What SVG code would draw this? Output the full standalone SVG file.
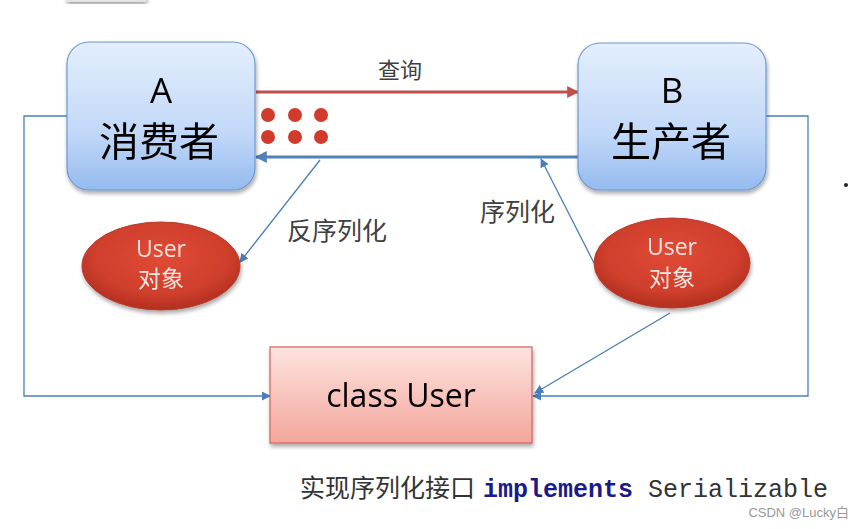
<svg xmlns="http://www.w3.org/2000/svg" width="863" height="529" viewBox="0 0 863 529">
<defs>
<linearGradient id="gBlue" x1="0" y1="0" x2="0" y2="1">
<stop offset="0" stop-color="#e3eefd"/>
<stop offset="0.6" stop-color="#c3d9f8"/>
<stop offset="1" stop-color="#95bbef"/>
</linearGradient>
<linearGradient id="gPink" x1="0" y1="0" x2="0" y2="1">
<stop offset="0" stop-color="#fde3df"/>
<stop offset="1" stop-color="#f4a69c"/>
</linearGradient>
<radialGradient id="gRed" cx="0.5" cy="0.4" r="0.6">
<stop offset="0" stop-color="#e04a35"/>
<stop offset="0.7" stop-color="#cf3f2c"/>
<stop offset="1" stop-color="#b22e20"/>
</radialGradient>
<filter id="sh" x="-10%" y="-10%" width="125%" height="130%">
<feGaussianBlur in="SourceAlpha" stdDeviation="2"/>
<feOffset dx="1" dy="3" result="b"/>
<feComponentTransfer><feFuncA type="linear" slope="0.35"/></feComponentTransfer>
<feMerge><feMergeNode/><feMergeNode in="SourceGraphic"/></feMerge>
</filter>
<marker id="arrRed" viewBox="0 0 10 10" refX="9" refY="5" markerWidth="4" markerHeight="4" orient="auto" markerUnits="strokeWidth">
<path d="M0,0 L10,5 L0,10 z" fill="#c0504d"/>
</marker>
<marker id="arrBlueThick" viewBox="0 0 10 10" refX="9" refY="5" markerWidth="4" markerHeight="4" orient="auto" markerUnits="strokeWidth">
<path d="M0,0 L10,5 L0,10 z" fill="#4f81bd"/>
</marker>
<marker id="arrBlue" viewBox="0 0 10 10" refX="9" refY="5" markerWidth="9" markerHeight="9" orient="auto" markerUnits="userSpaceOnUse">
<path d="M0,0 L10,5 L0,10 z" fill="#4a7ebb"/>
</marker>
</defs>
<style>
.node{fill:url(#gBlue);stroke:#6f98cf;stroke-width:1.2}
.ttl{font-family:"Open Sans","Noto Sans","Noto Sans CJK SC",sans-serif;fill:#000;text-anchor:middle}
.cjk{font-family:"Noto Sans CJK SC","Noto Sans",sans-serif}
.ell{fill:url(#gRed);stroke:#b83a2c;stroke-width:1}
.etx{font-family:"Open Sans","Noto Sans CJK SC",sans-serif;fill:#fbe5e1;text-anchor:middle;font-size:23px}
.lbl{font-family:"Noto Sans CJK SC",sans-serif;fill:#404040}
.thin{fill:none;stroke:#4a7ebb;stroke-width:1.3}
.dot{fill:#d13b2b}
</style>

<rect x="66" y="-6" width="80" height="8" fill="#e4e4e4" filter="url(#sh)"/>

<g id="connectors">
<line x1="256" y1="92" x2="578" y2="92" stroke="#c0504d" stroke-width="3" marker-end="url(#arrRed)"/>
<line x1="578" y1="157" x2="256" y2="157" stroke="#4f81bd" stroke-width="3" marker-end="url(#arrBlueThick)"/>
<line x1="320" y1="160" x2="240" y2="262" class="thin" marker-end="url(#arrBlue)"/>
<line x1="594" y1="263" x2="541" y2="159" class="thin" marker-end="url(#arrBlue)"/>
<line x1="670" y1="313" x2="535" y2="393" class="thin" marker-end="url(#arrBlue)"/>
<polyline points="67,116 24,116 24,396 270,396" class="thin" marker-end="url(#arrBlue)"/>
<polyline points="766,116 808,116 808,396 533,396" class="thin" marker-end="url(#arrBlue)"/>
<text x="400" y="78" class="lbl" text-anchor="middle" font-size="22">查询</text>
<text x="287" y="240" class="lbl" font-size="25">反序列化</text>
<text x="480" y="221" class="lbl" font-size="25">序列化</text>
</g>

<g id="dots">
<circle cx="268" cy="115" r="7" class="dot"/>
<circle cx="295" cy="115" r="7" class="dot"/>
<circle cx="321" cy="115" r="7" class="dot"/>
<circle cx="268" cy="137" r="7" class="dot"/>
<circle cx="295" cy="137" r="7" class="dot"/>
<circle cx="321" cy="137" r="7" class="dot"/>
</g>

<g id="nodeA" filter="url(#sh)">
<rect x="67" y="42" width="188" height="148" rx="22" class="node"/>
<text x="161" y="103" class="ttl" font-size="35">A</text>
<text x="159" y="156" class="ttl cjk" font-size="40">消费者</text>
</g>

<g id="nodeB" filter="url(#sh)">
<rect x="578" y="43" width="188" height="147" rx="22" class="node"/>
<text x="672" y="103" class="ttl" font-size="35">B</text>
<text x="671" y="156" class="ttl cjk" font-size="40">生产者</text>
</g>

<g id="userObjA" filter="url(#sh)">
<ellipse cx="161" cy="266" rx="79" ry="44" class="ell"/>
<text x="161" y="257" class="etx">User</text>
<text x="161" y="287" class="etx">对象</text>
</g>

<g id="userObjB" filter="url(#sh)">
<ellipse cx="672" cy="263" rx="78" ry="45" class="ell"/>
<text x="672" y="255" class="etx">User</text>
<text x="672" y="286" class="etx">对象</text>
</g>

<g id="classUser" filter="url(#sh)">
<rect x="270" y="347" width="262" height="96" fill="url(#gPink)" stroke="#d0645a" stroke-width="1.2"/>
<text x="401" y="407" class="ttl" font-size="32">class User</text>
</g>

<circle cx="846" cy="185" r="2" fill="#222"/>

<g id="note">
<text x="300" y="497" font-family="Noto Sans CJK SC,sans-serif" font-size="25" fill="#333">实现序列化接口</text>
<text x="483" y="497" font-family="Liberation Mono,monospace" font-size="25" fill="#333"><tspan font-weight="bold" fill="#1a1a8c">implements</tspan> Serializable</text>
<text x="849" y="517" font-family="Liberation Sans,Noto Sans CJK SC,sans-serif" font-size="13" fill="#999" text-anchor="end">CSDN @Lucky白</text>
</g>
</svg>
